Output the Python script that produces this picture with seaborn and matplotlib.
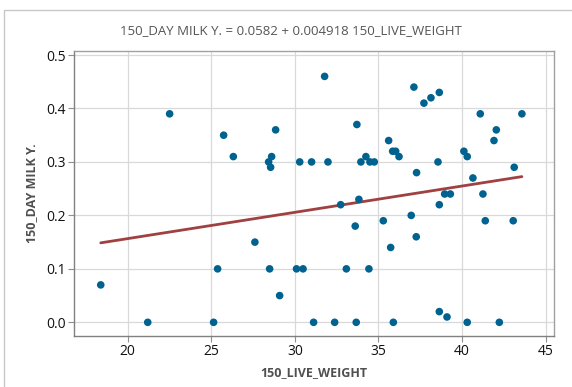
import matplotlib
matplotlib.use("Agg")
import matplotlib.pyplot as plt
import seaborn as sns
import numpy as np
import pandas as pd
from matplotlib.patches import Rectangle

live_weight = [18.39, 21.2, 22.51, 25.74, 26.32, 28.85, 28.43, 28.61, 28.55, 30.29,
               31.0, 27.61, 25.38, 28.49, 30.1, 30.49, 29.09, 25.14,
               31.78, 31.98, 31.12, 32.38, 33.67, 35.89, 38.64, 39.1, 40.31, 42.23,
               33.08, 34.43, 33.61, 32.74, 33.83, 33.71, 33.95, 34.25, 34.49, 34.75,
               35.29, 35.61, 35.85, 36.03, 36.23, 35.73, 36.96, 37.26, 37.28, 37.12,
               37.72, 38.14, 38.64, 38.56, 38.64, 38.96, 39.3, 40.11, 40.31, 40.65,
               41.09, 41.25, 41.39, 42.05, 41.91, 43.12, 43.06, 43.58]
milk_yield = [0.07, 0.0, 0.39, 0.35, 0.31, 0.36, 0.30, 0.31, 0.29, 0.30,
              0.30, 0.15, 0.10, 0.10, 0.10, 0.10, 0.05, 0.0,
              0.46, 0.30, 0.0, 0.0, 0.0, 0.0, 0.02, 0.01, 0.0, 0.0,
              0.10, 0.10, 0.18, 0.22, 0.23, 0.37, 0.30, 0.31, 0.30, 0.30,
              0.19, 0.34, 0.32, 0.32, 0.31, 0.14, 0.20, 0.16, 0.28, 0.44,
              0.41, 0.42, 0.43, 0.30, 0.22, 0.24, 0.24, 0.32, 0.31, 0.27,
              0.39, 0.24, 0.19, 0.36, 0.34, 0.29, 0.19, 0.39]
intercept = 0.0582
slope = 0.004918
x_ticks = [20, 25, 30, 35, 40, 45]
y_ticks = [0.0, 0.1, 0.2, 0.3, 0.4, 0.5]

df = pd.DataFrame({"150_LIVE_WEIGHT": live_weight, "150_DAY MILK Y.": milk_yield})
xfit = np.array([min(live_weight), max(live_weight)])
fit_df = pd.DataFrame({"x": xfit, "y": intercept + slope * xfit})

sns.set_style("white")
plt.rcParams['font.family'] = ['Open Sans', 'DejaVu Sans']

fig = plt.figure(figsize=(5.72, 3.87), dpi=100)
ax = fig.add_axes([74/572, 1-336/387, (554-74)/572, (336-51)/387])

fig.patches.append(Rectangle((4/572, -0.1), 1.2, (387-10)/387 + 0.1, transform=fig.transFigure,
                             fill=False, edgecolor='#c8c8c8', linewidth=1.0))

ax.grid(True, color='#d9d9d9', linewidth=0.9)
ax.set_axisbelow(True)
sns.lineplot(data=fit_df, x="x", y="y", ax=ax, color='#a04040', linewidth=2.0, zorder=2)
sns.scatterplot(data=df, x="150_LIVE_WEIGHT", y="150_DAY MILK Y.", ax=ax, color='#00628f',
                s=30, edgecolor='none', zorder=3)

ax.set_xlim(16.79, 45.5)
ax.set_ylim(-0.0256, 0.5075)
ax.set_xticks(x_ticks)
ax.set_xticklabels([str(t) for t in x_ticks])
ax.set_yticks(y_ticks)
ax.set_yticklabels([f"{t:.1f}" for t in y_ticks])
ax.tick_params(axis='both', length=4, width=0.8, color='#909090', labelsize=10,
               labelcolor='#111111', pad=2, direction='out', bottom=True, left=True)

for side in ['left', 'bottom']:
    ax.spines[side].set_color('#808080')
    ax.spines[side].set_linewidth(1.0)
for side in ['top', 'right']:
    ax.spines[side].set_color('#a0a0a0')
    ax.spines[side].set_linewidth(1.0)

ax.set_xlabel("150_LIVE_WEIGHT", fontsize=9, fontweight='bold', color='#505050', labelpad=5)
ax.set_ylabel("150_DAY MILK Y.", fontsize=9, fontweight='bold', color='#505050', labelpad=6)
fig.text(291/572, 1 - 31/387,
         "150_DAY MILK Y. = 0.0582 + 0.004918 150_LIVE_WEIGHT",
         ha='center', va='center', fontsize=9.5, color='#555555')

fig.savefig("out.png", dpi=100)
